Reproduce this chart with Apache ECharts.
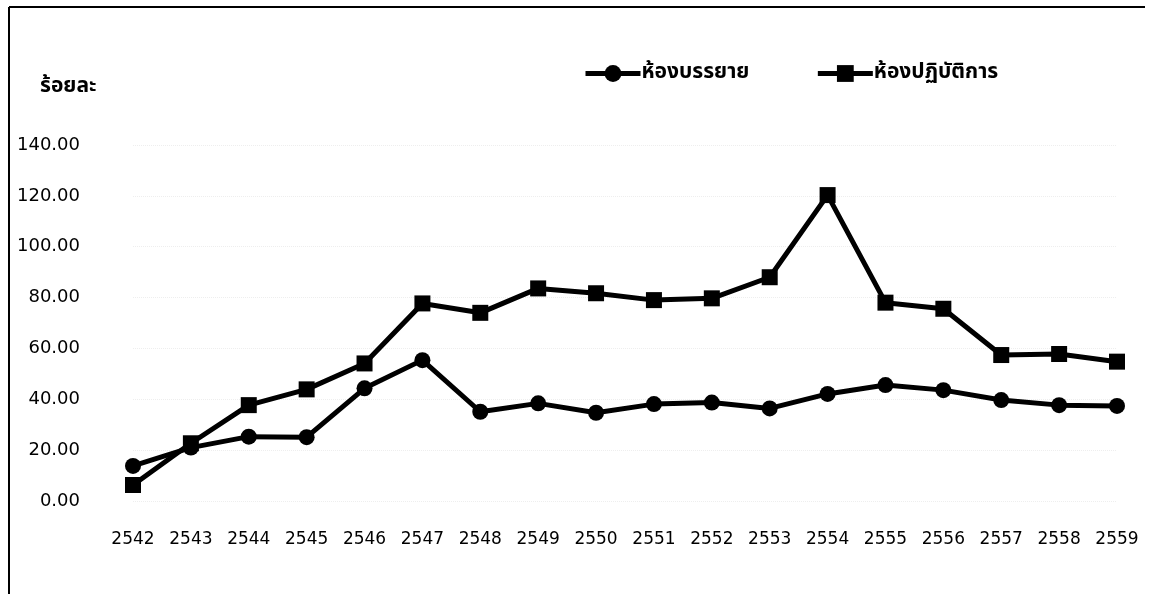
<!DOCTYPE html>
<html>
<head>
<meta charset="utf-8">
<title>ร้อยละ ห้องบรรยาย ห้องปฏิบัติการ</title>
<script src="https://cdn.jsdelivr.net/npm/echarts@6/dist/echarts.min.js"></script>
<style>
  html, body { margin: 0; padding: 0; background: #fff; }
  #chart { width: 1149px; height: 594px; }
</style>
</head>
<body>
<div id="chart"></div>
<script>
const years = ['2542', '2543', '2544', '2545', '2546', '2547', '2548', '2549', '2550',
  '2551', '2552', '2553', '2554', '2555', '2556', '2557', '2558', '2559']
const lectureRooms = [13.8, 21.0, 25.3, 25.1, 44.3, 55.4, 35.1, 38.4, 34.7,
  38.1, 38.7, 36.4, 42.1, 45.6, 43.6, 39.7, 37.7, 37.4]
const labRooms = [6.3, 22.7, 37.7, 43.9, 54.1, 77.7, 74.0, 83.6, 81.7,
  79.0, 79.7, 88.0, 120.3, 78.0, 75.6, 57.4, 57.8, 54.8]
const seriesNames = ['ห้องบรรยาย', 'ห้องปฏิบัติการ']
const yTicks = { min: 0, max: 140, interval: 20 }

const numFont = '"DejaVu Sans", Verdana, sans-serif'
const thaiFont = 'Tahoma, "Noto Sans Thai", "Noto Sans", "DejaVu Sans", sans-serif'

const chart = echarts.init(document.getElementById('chart'))

const lineSeries = (name, data, symbol) => ({
  name,
  type: 'line',
  data,
  symbol,
  symbolSize: 16,
  showAllSymbol: true,
  lineStyle: { color: '#000', width: 5 },
  itemStyle: { color: '#000' },
  emphasis: { disabled: true },
  animation: false
})

chart.setOption({
  backgroundColor: '#fff',
  title: {
    text: 'ร้อยละ',
    left: 35,
    top: 72,
    textStyle: { fontFamily: thaiFont, fontSize: 21, fontWeight: 'bold', color: '#000' }
  },
  legend: {
    data: seriesNames,
    left: 578,
    top: 58,
    itemWidth: 55,
    itemHeight: 21,
    itemGap: 66,
    lineStyle: { width: 5 },
    textStyle: { fontFamily: thaiFont, fontSize: 21, fontWeight: 'bold', color: '#000', padding: [0, 0, 0, -4] }
  },
  grid: { left: 133, right: 32, top: 145, bottom: 93, containLabel: false },
  xAxis: {
    type: 'category',
    data: years,
    boundaryGap: false,
    axisLine: { show: false },
    axisTick: { show: false },
    axisLabel: { color: '#000', fontFamily: numFont, fontSize: 17, margin: 30 },
    splitLine: { show: false }
  },
  yAxis: {
    type: 'value',
    min: yTicks.min,
    max: yTicks.max,
    interval: yTicks.interval,
    axisLine: { show: false },
    axisTick: { show: false },
    axisLabel: {
      color: '#000', fontFamily: numFont, fontSize: 18, margin: 53,
      formatter: v => v.toFixed(2)
    },
    splitLine: { lineStyle: { color: '#eeeeee', type: 'dotted', width: 1 } }
  },
  graphic: [
    { type: 'line', shape: { x1: 9, y1: 7, x2: 1145, y2: 7 }, style: { stroke: '#000', lineWidth: 2 } },
    { type: 'line', shape: { x1: 9, y1: 7, x2: 9, y2: 594 }, style: { stroke: '#000', lineWidth: 2 } }
  ],
  series: [
    lineSeries(seriesNames[0], lectureRooms, 'circle'),
    lineSeries(seriesNames[1], labRooms, 'rect')
  ]
})

window.addEventListener('resize', () => chart.resize())
</script>
</body>
</html>
